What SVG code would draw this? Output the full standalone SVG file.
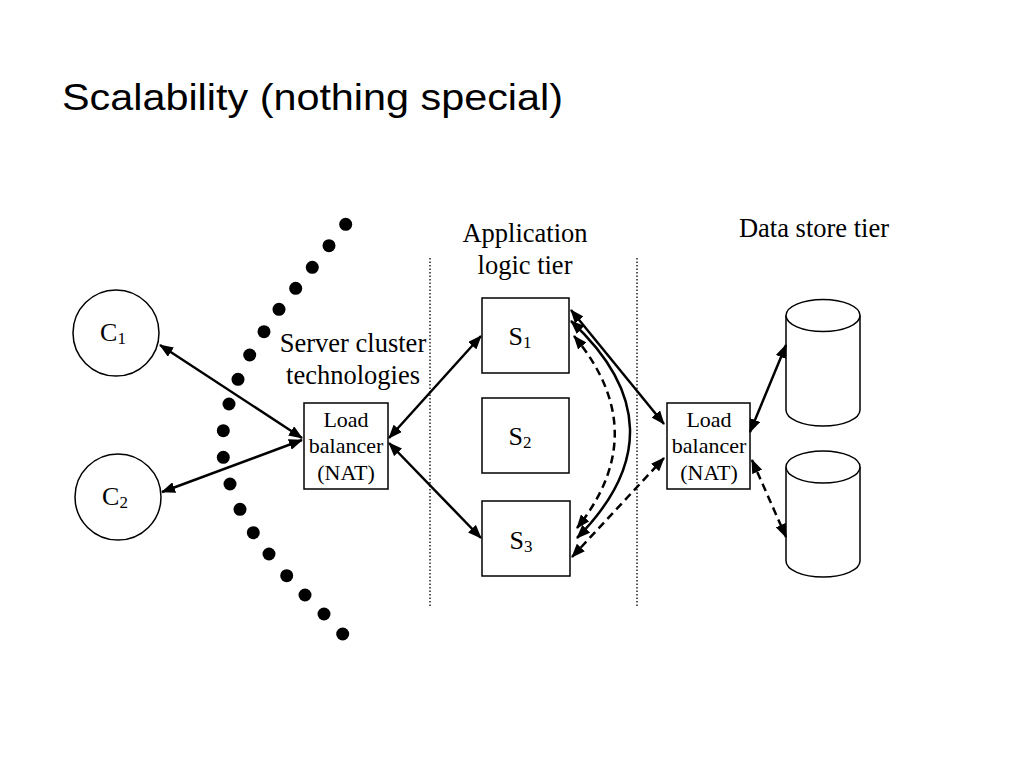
<svg xmlns="http://www.w3.org/2000/svg" width="1024" height="768" viewBox="0 0 1024 768">
<style>
.t{font-family:"Liberation Serif","Times New Roman",serif;fill:#000}
.lbl{font-size:26.5px}
.lb{font-size:22px}
.n{font-size:26px}
.box{fill:#fff;stroke:#000;stroke-width:1.5}
.ln{fill:none;stroke:#000;stroke-width:2.5}
.dash{stroke-dasharray:8 5}
.sep{stroke:#000;stroke-width:1.3;stroke-dasharray:1.5 2}
.dot{fill:#000}
</style>
<defs>
<marker id="ah" viewBox="0 0 14 11" refX="13" refY="5.5" markerWidth="14" markerHeight="11" markerUnits="userSpaceOnUse" orient="auto-start-reverse">
<path d="M0,0 L14,5.5 L0,11 z" fill="#000"/>
</marker>
</defs>
<rect width="1024" height="768" fill="#fff"/>
<text x="62" y="110" font-family="'Liberation Sans',Arial,sans-serif" font-size="36" textLength="501" lengthAdjust="spacingAndGlyphs">Scalability (nothing special)</text>

<g id="dots">
<circle class="dot" cx="345.7" cy="224.3" r="6.5"/>
<circle class="dot" cx="329" cy="245.7" r="6.5"/>
<circle class="dot" cx="312.3" cy="267.3" r="6.5"/>
<circle class="dot" cx="295.7" cy="288.3" r="6.5"/>
<circle class="dot" cx="279" cy="309.3" r="6.5"/>
<circle class="dot" cx="264" cy="331.7" r="6.5"/>
<circle class="dot" cx="249.7" cy="355" r="6.5"/>
<circle class="dot" cx="238" cy="379.3" r="6.5"/>
<circle class="dot" cx="229" cy="404" r="6.5"/>
<circle class="dot" cx="223.3" cy="430.7" r="6.5"/>
<circle class="dot" cx="223.3" cy="457.3" r="6.5"/>
<circle class="dot" cx="230" cy="484" r="6.5"/>
<circle class="dot" cx="240" cy="509.3" r="6.5"/>
<circle class="dot" cx="253.3" cy="532.7" r="6.5"/>
<circle class="dot" cx="269" cy="554" r="6.5"/>
<circle class="dot" cx="286.7" cy="575.7" r="6.5"/>
<circle class="dot" cx="305" cy="595" r="6.5"/>
<circle class="dot" cx="324" cy="614" r="6.5"/>
<circle class="dot" cx="342.7" cy="634" r="6.5"/>
</g>

<g id="separators">
<line class="sep" x1="430" y1="258" x2="430" y2="608"/>
<line class="sep" x1="637" y1="258" x2="637" y2="608"/>
</g>

<g id="labels">
<text class="t lbl" x="353" y="352" text-anchor="middle">Server cluster</text>
<text class="t lbl" x="353" y="384" text-anchor="middle">technologies</text>
<text class="t lbl" x="525" y="242" text-anchor="middle">Application</text>
<text class="t lbl" x="525" y="274" text-anchor="middle">logic tier</text>
<text class="t lbl" x="814" y="237" text-anchor="middle">Data store tier</text>
</g>

<g id="c1">
<circle class="box" cx="116" cy="333" r="43"/>
<text class="t n" x="113" y="341" text-anchor="middle">C<tspan font-size="17" dy="3">1</tspan></text>
</g>
<g id="c2">
<circle class="box" cx="118" cy="497" r="43"/>
<text class="t n" x="115" y="505" text-anchor="middle">C<tspan font-size="17" dy="3">2</tspan></text>
</g>

<g id="lb1">
<rect class="box" x="304" y="403" width="84" height="86"/>
<text class="t lb" x="346" y="427" text-anchor="middle">Load</text>
<text class="t lb" x="346" y="453" text-anchor="middle">balancer</text>
<text class="t lb" x="346" y="480" text-anchor="middle">(NAT)</text>
</g>

<g id="s1">
<rect class="box" x="482" y="298" width="87" height="75"/>
<text class="t n" x="520" y="345" text-anchor="middle">S<tspan font-size="17" dy="3">1</tspan></text>
</g>
<g id="s2">
<rect class="box" x="482" y="398" width="87" height="75"/>
<text class="t n" x="520" y="445" text-anchor="middle">S<tspan font-size="17" dy="3">2</tspan></text>
</g>
<g id="s3">
<rect class="box" x="482" y="501" width="88" height="75"/>
<text class="t n" x="521" y="549" text-anchor="middle">S<tspan font-size="17" dy="3">3</tspan></text>
</g>

<g id="lb2">
<rect class="box" x="667" y="403" width="83" height="86"/>
<text class="t lb" x="709" y="427" text-anchor="middle">Load</text>
<text class="t lb" x="709" y="453" text-anchor="middle">balancer</text>
<text class="t lb" x="709" y="480" text-anchor="middle">(NAT)</text>
</g>

<g id="db1">
<path class="box" d="M786,315.5 L786,410 A37,16 0 0 0 860,410 L860,315.5"/>
<ellipse class="box" cx="823" cy="315.5" rx="37" ry="16"/>
</g>
<g id="db2">
<path class="box" d="M786,467 L786,561 A37,16 0 0 0 860,561 L860,467"/>
<ellipse class="box" cx="823" cy="467" rx="37" ry="16"/>
</g>

<g id="connectors">
<line class="ln" x1="160" y1="345" x2="302" y2="438" marker-start="url(#ah)" marker-end="url(#ah)"/>
<line class="ln" x1="162" y1="492" x2="302" y2="440" marker-start="url(#ah)" marker-end="url(#ah)"/>
<line class="ln" x1="389" y1="438" x2="481" y2="336" marker-start="url(#ah)" marker-end="url(#ah)"/>
<line class="ln" x1="389" y1="443" x2="481" y2="538" marker-start="url(#ah)" marker-end="url(#ah)"/>
<line class="ln" x1="571" y1="310" x2="664" y2="424" marker-start="url(#ah)" marker-end="url(#ah)"/>
<path class="ln" d="M571,321 Q686,428 577,538" marker-start="url(#ah)" marker-end="url(#ah)"/>
<path class="ln dash" d="M574,336 Q654,432 577,528" marker-start="url(#ah)" marker-end="url(#ah)"/>
<line class="ln dash" x1="572" y1="557" x2="664" y2="458" marker-start="url(#ah)" marker-end="url(#ah)"/>
<line class="ln" x1="750" y1="432" x2="786" y2="345" marker-start="url(#ah)" marker-end="url(#ah)"/>
<line class="ln dash" x1="752" y1="460" x2="786" y2="537" marker-start="url(#ah)" marker-end="url(#ah)"/>
</g>
</svg>
